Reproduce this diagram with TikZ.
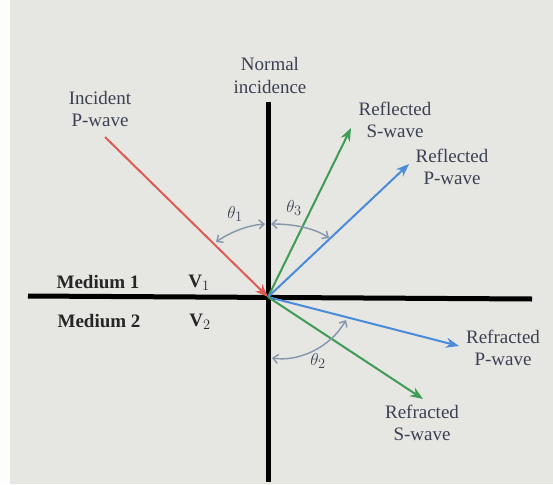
\documentclass[tikz,border=0pt]{standalone}
\usepackage{fontspec}
\setmainfont{Liberation Serif}
\usetikzlibrary{arrows.meta,calc}
\definecolor{bgc}{HTML}{E6E6E2}
\definecolor{txt}{HTML}{3C4152}
\definecolor{redw}{HTML}{DD5A55}
\definecolor{greenw}{HTML}{3E9C55}
\definecolor{bluew}{HTML}{4A8BDA}
\definecolor{arcc}{HTML}{8595AE}
\tikzset{
  lbl/.style={text=txt, font=\fontsize{19}{22.5}\selectfont, align=center, inner sep=0pt},
  med/.style={text=black!85, font=\bfseries\fontsize{19}{22}\selectfont, inner sep=0pt},
  axis/.style={line width=5pt, black},
  wave/.style={line width=2pt, -{Stealth[length=13pt,width=10pt]}},
  ang/.style={arcc, line width=1.4pt, {Straight Barb[length=5pt,width=9pt]}-{Straight Barb[length=5pt,width=9pt]}},
}
\begin{document}
\begin{tikzpicture}[x=1pt,y=-1pt]
\useasboundingbox (0,0) rectangle (553,484);
\fill[bgc] (0,0) rectangle (553,484);
\fill[white!92!bgc] (0,0) rectangle (10,484);
% axes
\coordinate (O) at (268,297);
\coordinate (nT) at (268,102);
\coordinate (nB) at (268,482);
\coordinate (hL) at (28,296);
\coordinate (hR) at (532,299);
\draw[axis] (nT) -- (nB);
\draw[axis] (hL) -- (hR);
% wave endpoints
\coordinate (inc) at (105,137);
\coordinate (rS) at (351,128);
\coordinate (rP) at (409,164);
\coordinate (tP) at (459,346);
\coordinate (tS) at (423,399);
\draw[wave, redw] (inc) -- (O);
\draw[wave, greenw] (O) -- (rS);
\draw[wave, bluew] (O) -- (rP);
\draw[wave, bluew] (O) -- (tP);
\draw[wave, greenw] (O) -- (tS);
% angle arcs
\coordinate (a1s) at (216,242);
\coordinate (a1e) at (265,224);
\coordinate (a3s) at (271,224);
\coordinate (a3e) at (329,238);
\coordinate (a2s) at (272,358);
\coordinate (a2e) at (346,320);
\draw[ang] (a1s) .. controls (232,231) and (250,225) .. (a1e);
\draw[ang] (a3s) .. controls (294,224) and (314,228) .. (a3e);
\draw[ang] (a2s) .. controls (298,362) and (330,348) .. (a2e);
% labels
\node[lbl] (tn) at (270,75.5) {Normal\\incidence};
\node[lbl] (ti) at (100,109) {Incident\\P-wave};
\node[lbl] (trs) at (395,120) {Reflected\\S-wave};
\node[lbl] (trp) at (452,167) {Reflected\\P-wave};
\node[lbl] (ttp) at (503,348) {Refracted\\P-wave};
\node[lbl] (tts) at (422,423) {Refracted\\S-wave};
\node[med] (m1) at (98,282) {Medium 1};
\node[med] (m2) at (99,321) {Medium 2};
\node[med] (v1) at (199,283) {V$_1$};
\node[med] (v2) at (200,322) {V$_2$};
\node[lbl] (a1) at (235,214) {$\theta_1$};
\node[lbl] (a3) at (294,208) {$\theta_3$};
\node[lbl] (a2) at (318,361) {$\theta_2$};
\end{tikzpicture}
\end{document}
